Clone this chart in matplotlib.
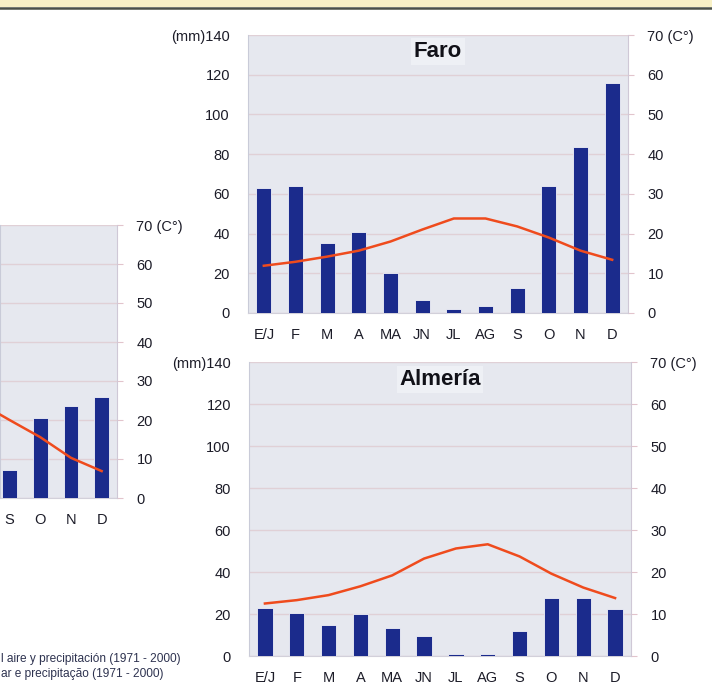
import numpy as np
import matplotlib.pyplot as plt
from matplotlib.lines import Line2D
from matplotlib.patches import Rectangle

plt.rcParams['font.family'] = ['Liberation Sans', 'DejaVu Sans']

meses = ['E/J', 'F', 'M', 'A', 'MA', 'JN', 'JL', 'AG', 'S', 'O', 'N', 'D']
faro_prec = [63, 64, 35.5, 41, 20, 6.5, 2, 3.5, 12.5, 64, 83.5, 116]
faro_temp = [11.9, 12.9, 14.2, 15.7, 18, 21, 23.8, 23.8, 21.8, 19, 15.7, 13.4]
almeria_prec = [23, 20.7, 15, 20.2, 13.3, 9.4, 1, 1, 11.8, 27.8, 27.7, 22.6]
almeria_temp = [12.5, 13.3, 14.5, 16.6, 19.2, 23.2, 25.6, 26.6, 23.7, 19.6, 16.3, 13.8]
# grafico cortado a la izquierda: solo se ven los ultimos meses
izq_meses = ['AG', 'S', 'O', 'N', 'D']
izq_prec = [np.nan, 14.4, 41, 47, 51.8]
izq_temp = [24.5, 20, 15.6, 10.3, 6.9]

W, H = 712, 690
fig = plt.figure(figsize=(W / 100, H / 100), dpi=100)


def caja(x0, y0, x1, y1):
    return [x0 / W, 1 - y1 / H, (x1 - x0) / W, (y1 - y0) / H]


def climograma(rect, etiquetas, prec, temp, titulo=None, xlim=None, con_izq=True):
    ax = fig.add_axes(rect)
    ax.set_facecolor('#e6e8ef')
    x = np.arange(len(etiquetas))
    ax.bar(x, prec, width=0.48, color='#1b2b8c', edgecolor='#f2f3f8',
           linewidth=0.6, zorder=3)
    ax.set_ylim(0, 140)
    if xlim is None:
        xlim = (-0.5, len(etiquetas) - 0.5)
    ax.set_xlim(xlim)
    ax.set_axisbelow(True)
    ax.yaxis.grid(True, color='#e0d0d6', lw=1)
    vis = [i for i in x if i >= xlim[0]]
    ax.set_xticks(vis)
    ax.set_xticklabels([etiquetas[i] for i in vis])
    ax.tick_params(axis='x', length=0, pad=11, labelsize=10.5, labelcolor='#1c1c28')
    yt = np.arange(0, 141, 20)
    ax.set_yticks(yt)
    ax.set_yticklabels([str(v) for v in yt[:-1]] + ['(mm)140'])
    ax.tick_params(axis='y', length=0, pad=13, labelsize=10.5, labelcolor='#1c1c28',
                   labelleft=con_izq)
    for s in ['top', 'right']:
        ax.spines[s].set_visible(False)
    ax.spines['left'].set_color('#c9cbd8')
    ax.spines['bottom'].set_color('#d2d0da')

    ax2 = ax.twinx()
    ax2.plot(x, temp, color='#ef4b1d', lw=1.8, zorder=4)
    ax2.set_ylim(0, 70)
    tt = np.arange(0, 71, 10)
    ax2.set_yticks(tt)
    ax2.set_yticklabels([str(v) for v in tt[:-1]] + ['70 (C°)'])
    ax2.tick_params(axis='y', length=4, color='#e2c4cc', pad=10, labelsize=10.5,
                    labelcolor='#1c1c28')
    for s in ['top', 'left']:
        ax2.spines[s].set_visible(False)
    ax2.spines['right'].set_color('#cfc8d6')
    ax2.spines['bottom'].set_visible(False)

    if titulo:
        ax.text(0.5, 0.941, titulo, transform=ax.transAxes, ha='center', va='center',
                fontsize=16, fontweight='bold', color='#111118', zorder=5,
                bbox=dict(facecolor='#eef0f5', edgecolor='none', pad=2))
    return ax, ax2


climograma(caja(248, 35, 628, 313), meses, faro_prec, faro_temp, 'Faro')
climograma(caja(249, 362, 631, 656), meses, almeria_prec, almeria_temp, 'Almería')
paso = 30.7
climograma(caja(0, 225, 117, 498), izq_meses, izq_prec, izq_temp,
           xlim=(4.5 - 117 / paso, 4.5), con_izq=False)

# franja superior del panel
fig.add_artist(Rectangle((0, 1 - 7 / H), 1, 7 / H, transform=fig.transFigure,
                         facecolor='#f8f1c6', edgecolor='none'))
fig.add_artist(Line2D([0, 1], [1 - 8 / H, 1 - 8 / H], transform=fig.transFigure,
                      color='#4b5148', lw=1.8))

# pie del panel (cortado en el original)
fig.text(1 / W, 1 - 659 / H, 'l aire y precipitación (1971 - 2000)', ha='left',
         va='center', fontsize=8.6, color='#2e3350')
fig.text(1 / W, 1 - 674 / H, 'ar e precipitação (1971 - 2000)', ha='left',
         va='center', fontsize=8.6, color='#2e3350')

fig.savefig('out.png', dpi=100)
